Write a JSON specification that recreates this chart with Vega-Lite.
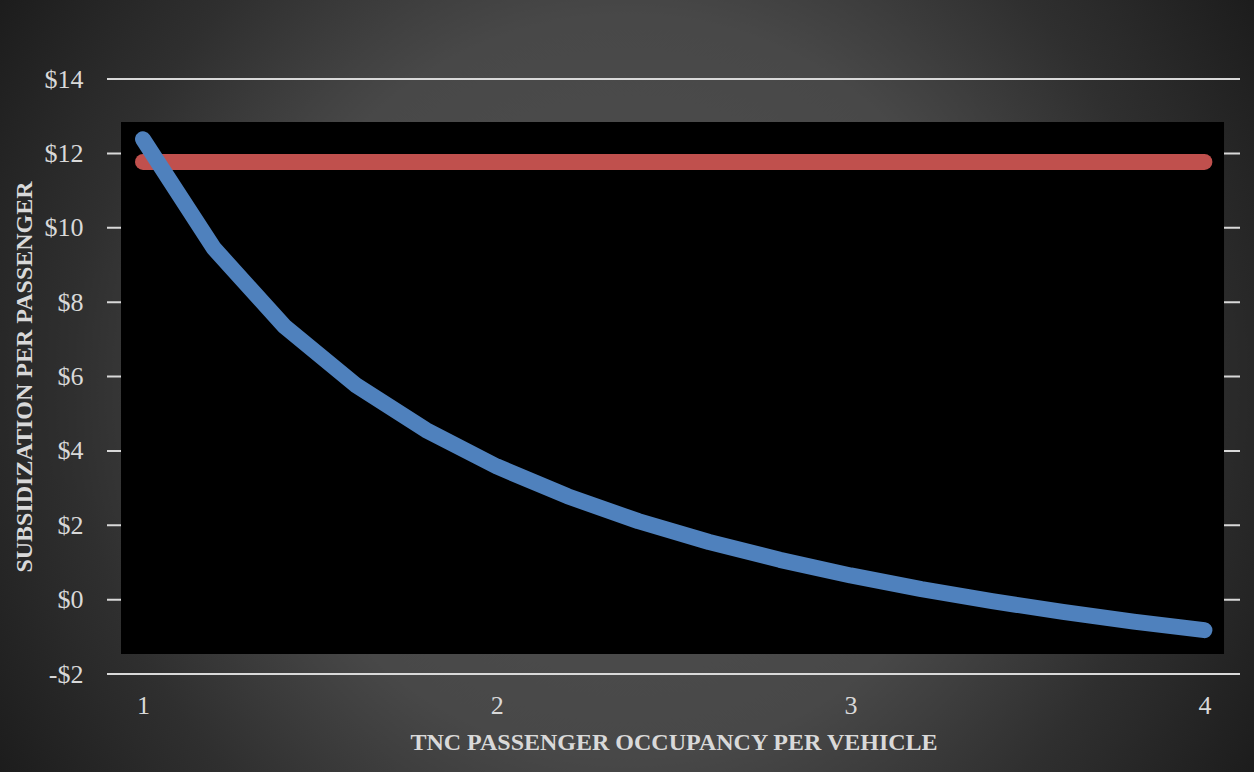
{
  "$schema": "https://vega.github.io/schema/vega-lite/v6.json",
  "width": 1133,
  "height": 595,
  "autosize": "none",
  "padding": {"left": 107, "top": 79, "right": 14, "bottom": 98},
  "background": "#262626",
  "config": {
    "view": {"stroke": null},
    "font": "Liberation Serif"
  },
  "datasets": {
    "gridTicks": [
      {"level": -2}, {"level": 0}, {"level": 2}, {"level": 4},
      {"level": 6}, {"level": 8}, {"level": 10}, {"level": 12}, {"level": 14}
    ],
    "subsidyCurve": [
      {"occupancy": 1.0, "subsidy": 12.38},
      {"occupancy": 1.2, "subsidy": 9.45},
      {"occupancy": 1.4, "subsidy": 7.35},
      {"occupancy": 1.6, "subsidy": 5.78},
      {"occupancy": 1.8, "subsidy": 4.56},
      {"occupancy": 2.0, "subsidy": 3.58},
      {"occupancy": 2.2, "subsidy": 2.78},
      {"occupancy": 2.4, "subsidy": 2.11},
      {"occupancy": 2.6, "subsidy": 1.55},
      {"occupancy": 2.8, "subsidy": 1.07},
      {"occupancy": 3.0, "subsidy": 0.65},
      {"occupancy": 3.2, "subsidy": 0.28},
      {"occupancy": 3.4, "subsidy": -0.04},
      {"occupancy": 3.6, "subsidy": -0.33},
      {"occupancy": 3.8, "subsidy": -0.59},
      {"occupancy": 4.0, "subsidy": -0.82}
    ],
    "flatLevel": [
      {"occupancy": 1.0, "subsidy": 11.77},
      {"occupancy": 4.0, "subsidy": 11.77}
    ]
  },
  "layer": [
    {
      "description": "chart-area backdrop with a circular radial gradient",
      "data": {"values": [{}]},
      "mark": {
        "type": "rect",
        "clip": false,
        "fill": {
          "gradient": "radial",
          "x1": 0.5, "y1": 0.5, "r1": 0,
          "x2": 0.5, "y2": 0.5, "r2": 0.5,
          "stops": [
            {"offset": 0, "color": "#505050"},
            {"offset": 0.5, "color": "#484848"},
            {"offset": 0.6, "color": "#3e3e3e"},
            {"offset": 0.68, "color": "#363636"},
            {"offset": 0.75, "color": "#2f2f2f"},
            {"offset": 0.82, "color": "#2a2a2a"},
            {"offset": 1, "color": "#1c1c1c"}
          ]
        }
      },
      "encoding": {
        "x": {"datum": 0.2764, "type": "quantitative"},
        "x2": {"datum": 4.4596},
        "y": {"datum": 25.644, "type": "quantitative"},
        "y2": {"datum": -14.155}
      }
    },
    {
      "data": {"name": "gridTicks"},
      "mark": {"type": "rule", "color": "#d9d9d9", "strokeWidth": 2},
      "encoding": {
        "y": {"field": "level", "type": "quantitative"}
      }
    },
    {
      "description": "black plot-area panel",
      "data": {"values": [{}]},
      "mark": {"type": "rect", "fill": "#000000", "clip": false},
      "encoding": {
        "x": {"datum": 0.9378, "type": "quantitative"},
        "x2": {"datum": 4.0554},
        "y": {"datum": 12.844, "type": "quantitative"},
        "y2": {"datum": -1.462}
      }
    },
    {
      "data": {"name": "flatLevel"},
      "mark": {"type": "line", "color": "#c0504d", "strokeWidth": 16, "strokeCap": "round", "strokeJoin": "round", "clip": false},
      "encoding": {
        "x": {"field": "occupancy", "type": "quantitative"},
        "y": {"field": "subsidy", "type": "quantitative"}
      }
    },
    {
      "data": {"name": "subsidyCurve"},
      "mark": {"type": "line", "color": "#4f81bd", "strokeWidth": 16, "strokeCap": "round", "strokeJoin": "round", "clip": false},
      "encoding": {
        "x": {
          "field": "occupancy",
          "type": "quantitative",
          "scale": {"domain": [0.8982, 4.1006], "nice": false, "zero": false},
          "axis": {
            "title": "TNC PASSENGER OCCUPANCY PER VEHICLE",
            "values": [1, 2, 3, 4],
            "format": "d",
            "grid": false,
            "domain": false,
            "ticks": false,
            "zindex": 1,
            "labelFont": "Liberation Serif",
            "labelFontSize": 26,
            "labelColor": "#d9d9d9",
            "labelPadding": 18,
            "labelFlush": false,
            "titleFont": "Liberation Serif",
            "titleFontSize": 24,
            "titleFontWeight": "bold",
            "titleColor": "#d9d9d9",
            "titleBaseline": "middle",
            "titleY": 68
          }
        },
        "y": {
          "field": "subsidy",
          "type": "quantitative",
          "scale": {"domain": [-2, 14], "nice": false, "zero": false},
          "axis": {
            "title": "SUBSIDIZATION PER PASSENGER",
            "values": [-2, 0, 2, 4, 6, 8, 10, 12, 14],
            "labelExpr": "datum.value < 0 ? '-$' + abs(datum.value) : '$' + datum.value",
            "grid": false,
            "domain": false,
            "ticks": false,
            "zindex": 1,
            "labelFont": "Liberation Serif",
            "labelFontSize": 26,
            "labelColor": "#d9d9d9",
            "labelPadding": 24,
            "labelFlush": false,
            "titleFont": "Liberation Serif",
            "titleFontSize": 24,
            "titleFontWeight": "bold",
            "titleColor": "#d9d9d9",
            "titleAngle": 270,
            "titleBaseline": "middle",
            "titleAlign": "center",
            "titleX": -83,
            "titleY": 297.5
          }
        }
      }
    }
  ]
}
